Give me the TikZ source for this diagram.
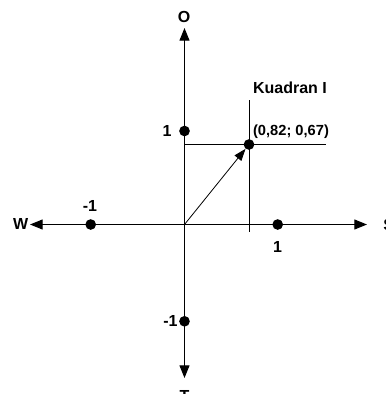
\documentclass[tikz,border=0pt]{standalone}
\usepackage{fontspec}
\setmainfont{Liberation Sans}
\usetikzlibrary{arrows.meta}
\begin{document}
\begin{tikzpicture}[x=0.75pt, y=0.75pt,
    every node/.style={font=\bfseries\fontsize{12}{14}\selectfont},
    axis/.style={line width=0.75pt, {Triangle[length=9.5pt,width=7.5pt]}-{Triangle[length=9.5pt,width=7.5pt]}},
    guide/.style={line width=0.6pt},
    dot/.style={circle, fill=black, inner sep=0pt, minimum size=8pt}]
    \useasboundingbox (-184.5,-169.5) rectangle (201.5,224.5);
    \coordinate (orig) at (0,0);
    \coordinate (west) at (-154.5,0);
    \coordinate (east) at (182.5,0);
    \coordinate (north) at (0,196.5);
    \coordinate (south) at (0,-153.5);
    \draw[axis] (west) -- (east);
    \draw[axis] (south) -- (north);
    \node (lblO) at (-0.5,207.5) {O};
    \node (lblT) [anchor=north] at (0,-161) {T};
    \node (lblW) at (-163.8,0.5) {W};
    \node (lblS) [anchor=west, inner sep=0pt] at (198.5,0) {S};
    \node[dot] (yone)  at (0,93.5) {};
    \node[dot] (ymone) at (0,-96.8) {};
    \node[dot] (xmone) at (-93.8,0) {};
    \node[dot] (xone)  at (93.2,0) {};
    \node (lblyone)  at (-17.5,93.5) {1};
    \node (lblymone) at (-14,-96.8) {-1};
    \node (lblxmone) at (-94.5,18.8) {-1};
    \node (lblxone)  at (93.2,-22.2) {1};
    \coordinate (vtop) at (64.5,124.5);
    \coordinate (vbot) at (64.5,-7);
    \coordinate (hleft) at (0,80);
    \coordinate (hright) at (141.5,80);
    \draw[guide] (vtop) -- (vbot);
    \draw[guide] (hleft) -- (hright);
    \node[dot] (pt) at (64.5,80) {};
    \draw[line width=0.6pt, -{Triangle[length=9pt,width=6.5pt]}] (orig) -- (pt);
    \node (quad) at (105.5,137) {Kuadran I};
    \node[font=\bfseries\fontsize{11}{13}\selectfont] (ptlbl) at (106.5,92.5) {(0,82; 0,67)};
\end{tikzpicture}
\end{document}
